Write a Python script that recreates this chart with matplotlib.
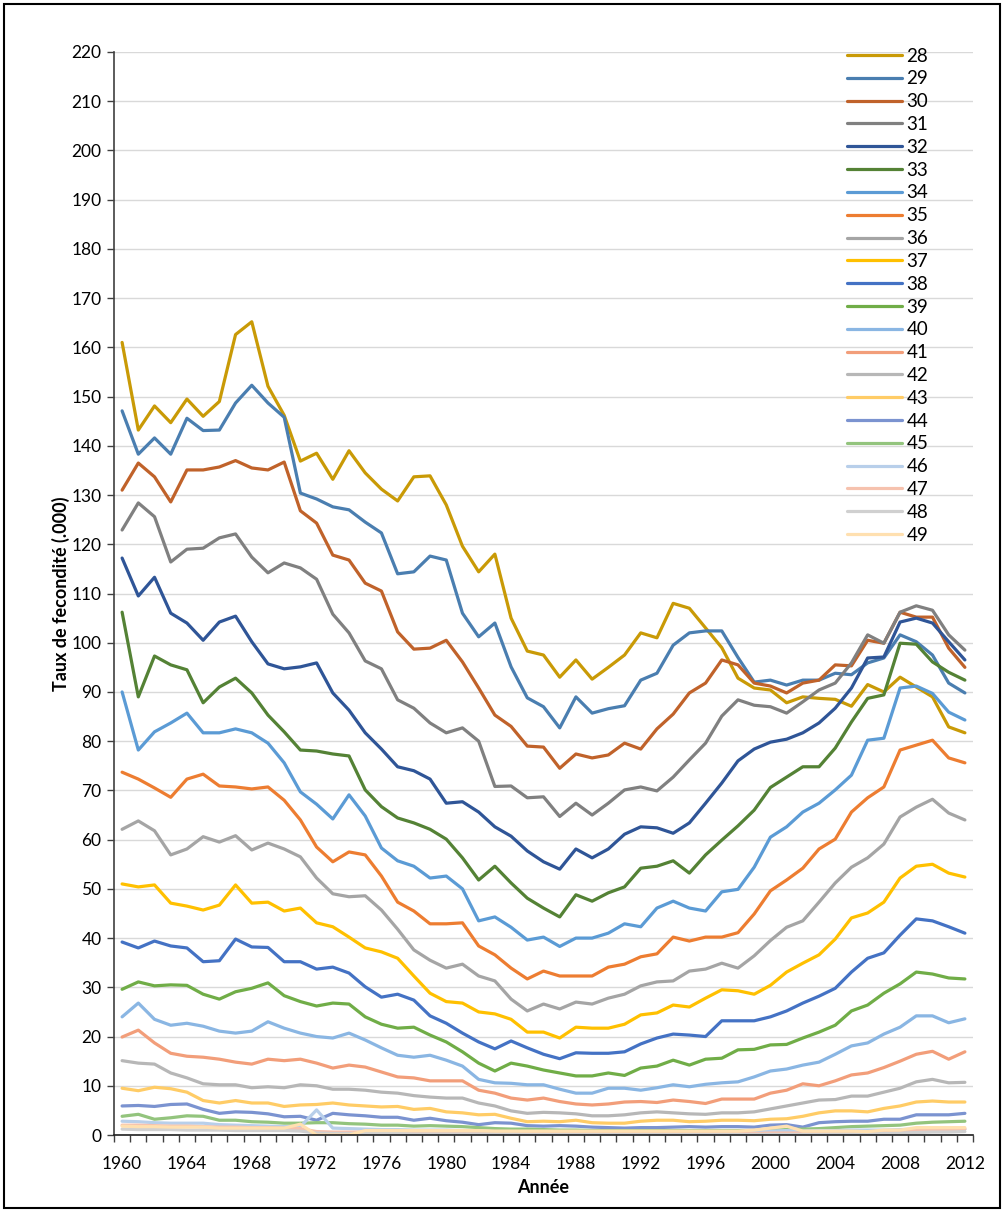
import matplotlib
matplotlib.use("Agg")
import matplotlib.pyplot as plt
from matplotlib.patches import Rectangle

plt.rcParams['font.family'] = ['Lato', 'DejaVu Sans']

years = list(range(1960, 2013))

s28 = [161, 143.2, 148.1, 144.7, 149.5, 146, 149, 162.6, 165.2, 152.1, 146.2, 136.9, 138.5, 133.2, 139, 134.5, 131.2, 128.8, 133.7, 133.9,
       128, 119.6, 114.4, 118, 105, 98.3, 97.5, 93, 96.5, 92.6, 95, 97.5, 102, 101, 108, 107, 103, 99, 92.8, 90.8,
       90.4, 87.8, 89, 88.7, 88.5, 87.1, 91.5, 90, 93, 91, 89, 82.9, 81.7]
s29 = [147.1, 138.3, 141.6, 138.3, 145.6, 143.1, 143.2, 148.7, 152.3, 148.7, 145.8, 130.4, 129.2, 127.6, 127, 124.5, 122.3, 114, 114.4, 117.6,
       116.8, 106, 101.2, 104, 95.1, 88.8, 87, 82.7, 89, 85.7, 86.6, 87.2, 92.4, 93.8, 99.5, 102, 102.4, 102.4, 97, 92,
       92.4, 91.4, 92.4, 92.4, 93.8, 93.5, 95.9, 96.9, 101.6, 100.2, 97.5, 91.8, 89.8]
s30 = [131, 136.5, 133.7, 128.6, 135.1, 135.1, 135.7, 137, 135.5, 135.1, 136.7, 126.8, 124.3, 117.8, 116.8, 112.1, 110.5, 102.2, 98.7, 98.9,
       100.5, 96.1, 90.8, 85.3, 83, 79, 78.8, 74.5, 77.4, 76.6, 77.2, 79.6, 78.4, 82.5, 85.5, 89.8, 91.8, 96.5, 95.5, 91.8,
       91.2, 89.8, 91.8, 92.4, 95.5, 95.3, 100.5, 99.9, 106.2, 105.2, 105.2, 98.9, 95]
s31 = [122.9, 128.4, 125.6, 116.4, 119, 119.2, 121.3, 122.1, 117.4, 114.2, 116.2, 115.2, 112.9, 105.8, 102, 96.3, 94.7, 88.4, 86.7, 83.7,
       81.7, 82.7, 80, 70.8, 70.9, 68.5, 68.7, 64.7, 67.4, 65, 67.4, 70.1, 70.7, 69.9, 72.7, 76.2, 79.6, 85.1, 88.4, 87.3,
       87, 85.7, 88, 90.4, 91.8, 95.9, 101.6, 99.9, 106.2, 107.5, 106.6, 101.6, 98.5]
s32 = [117.2, 109.5, 113.3, 106, 104, 100.5, 104.2, 105.4, 100.2, 95.7, 94.7, 95.1, 95.9, 89.8, 86.3, 81.7, 78.4, 74.8, 74, 72.3,
       67.4, 67.7, 65.6, 62.6, 60.7, 57.7, 55.5, 54, 58.1, 56.3, 58.1, 61.1, 62.6, 62.4, 61.3, 63.4, 67.4, 71.5, 76, 78.4,
       79.8, 80.4, 81.7, 83.7, 86.7, 90.8, 96.9, 97.1, 104.2, 105, 104, 100.2, 96.5]
s33 = [106.2, 89, 97.3, 95.5, 94.5, 87.8, 91, 92.8, 89.8, 85.3, 81.9, 78.2, 78, 77.4, 77, 70.1, 66.7, 64.4, 63.4, 62.1,
       60.1, 56.3, 51.8, 54.6, 51.2, 48.1, 46.1, 44.3, 48.8, 47.5, 49.2, 50.4, 54.2, 54.6, 55.7, 53.2, 56.9, 59.9, 62.8, 66,
       70.6, 72.7, 74.8, 74.8, 78.6, 83.9, 88.7, 89.4, 99.9, 99.7, 96.1, 94, 92.4]
s34 = [90, 78.2, 81.9, 83.7, 85.7, 81.7, 81.7, 82.5, 81.7, 79.6, 75.6, 69.7, 67.2, 64.2, 69.1, 64.8, 58.3, 55.7, 54.6, 52.2,
       52.6, 50, 43.5, 44.3, 42.2, 39.6, 40.2, 38.3, 40, 40, 41, 42.9, 42.3, 46.1, 47.5, 46.1, 45.5, 49.4, 49.9, 54.4,
       60.5, 62.6, 65.6, 67.4, 70.1, 73.1, 80.2, 80.6, 90.8, 91.2, 89.7, 85.9, 84.3]
s35 = [73.7, 72.3, 70.5, 68.6, 72.3, 73.3, 70.9, 70.7, 70.3, 70.7, 68, 64, 58.5, 55.5, 57.5, 56.9, 52.6, 47.3, 45.5, 42.9,
       42.9, 43.1, 38.4, 36.6, 33.9, 31.7, 33.3, 32.3, 32.3, 32.3, 34.1, 34.7, 36.2, 36.8, 40.2, 39.4, 40.2, 40.2, 41.1, 44.9,
       49.6, 51.8, 54.2, 58.1, 60.1, 65.6, 68.5, 70.7, 78.2, 79.2, 80.2, 76.6, 75.6]
s36 = [62.1, 63.8, 61.8, 56.9, 58.1, 60.6, 59.5, 60.8, 57.9, 59.3, 58.1, 56.5, 52.2, 49, 48.4, 48.6, 45.7, 41.8, 37.6, 35.5,
       33.9, 34.7, 32.3, 31.3, 27.6, 25.2, 26.6, 25.6, 27, 26.6, 27.8, 28.6, 30.3, 31.1, 31.3, 33.3, 33.7, 34.9, 33.9, 36.4,
       39.5, 42.2, 43.5, 47.3, 51.2, 54.4, 56.3, 59.1, 64.6, 66.6, 68.2, 65.4, 64]
s37 = [51, 50.4, 50.8, 47.1, 46.5, 45.7, 46.7, 50.8, 47.1, 47.3, 45.5, 46.1, 43.1, 42.3, 40.2, 38, 37.2, 35.9, 32.3, 28.8,
       27.1, 26.8, 25, 24.6, 23.5, 20.9, 20.9, 19.7, 21.9, 21.7, 21.7, 22.5, 24.4, 24.8, 26.4, 26, 27.8, 29.5, 29.3, 28.6,
       30.4, 33.1, 34.9, 36.6, 39.8, 44.1, 45.1, 47.3, 52.2, 54.6, 55, 53.2, 52.4]
s38 = [39.2, 38, 39.4, 38.4, 38, 35.2, 35.4, 39.8, 38.2, 38.1, 35.2, 35.2, 33.7, 34.1, 32.9, 30.1, 28, 28.6, 27.4, 24.2,
       22.7, 20.7, 18.9, 17.5, 19.1, 17.7, 16.4, 15.5, 16.7, 16.6, 16.6, 16.9, 18.5, 19.7, 20.5, 20.3, 20, 23.2, 23.2, 23.2,
       24, 25.2, 26.8, 28.2, 29.8, 33.1, 35.9, 37, 40.6, 43.9, 43.5, 42.3, 41]
s39 = [29.6, 31.1, 30.3, 30.5, 30.4, 28.6, 27.6, 29.1, 29.8, 30.9, 28.3, 27.1, 26.2, 26.8, 26.6, 24, 22.5, 21.7, 21.9, 20.3,
       18.9, 16.9, 14.6, 13, 14.6, 14, 13.2, 12.6, 12, 12, 12.6, 12.1, 13.6, 14, 15.2, 14.2, 15.4, 15.6, 17.3, 17.4,
       18.3, 18.4, 19.7, 20.9, 22.3, 25.2, 26.4, 28.8, 30.7, 33.1, 32.7, 31.9, 31.7]
s40 = [24, 26.8, 23.5, 22.3, 22.7, 22.1, 21.1, 20.7, 21.1, 23, 21.7, 20.7, 20, 19.7, 20.7, 19.3, 17.7, 16.2, 15.8, 16.2,
       15.2, 14, 11.3, 10.6, 10.5, 10.2, 10.2, 9.3, 8.5, 8.5, 9.5, 9.5, 9.1, 9.6, 10.2, 9.8, 10.3, 10.6, 10.8, 11.8,
       13, 13.4, 14.2, 14.8, 16.4, 18.1, 18.7, 20.5, 21.9, 24.2, 24.2, 22.8, 23.6]
s41 = [19.9, 21.3, 18.7, 16.6, 16, 15.8, 15.4, 14.8, 14.4, 15.4, 15.1, 15.4, 14.6, 13.6, 14.2, 13.8, 12.8, 11.8, 11.6, 11,
       11, 11, 9.1, 8.5, 7.5, 7.1, 7.5, 6.8, 6.3, 6.1, 6.3, 6.7, 6.8, 6.6, 7.1, 6.8, 6.4, 7.3, 7.3, 7.3,
       8.5, 9.1, 10.4, 10, 11, 12.2, 12.6, 13.7, 15, 16.4, 17, 15.4, 16.9]
s42 = [15.1, 14.6, 14.4, 12.6, 11.6, 10.4, 10.2, 10.2, 9.6, 9.8, 9.6, 10.2, 10, 9.3, 9.3, 9.1, 8.7, 8.5, 8, 7.7,
       7.5, 7.5, 6.5, 5.9, 4.9, 4.4, 4.6, 4.5, 4.3, 3.9, 3.9, 4.1, 4.5, 4.7, 4.5, 4.3, 4.2, 4.5, 4.5, 4.7,
       5.3, 5.9, 6.5, 7.1, 7.2, 7.9, 7.9, 8.7, 9.5, 10.8, 11.3, 10.6, 10.7]
s43 = [9.5, 9, 9.7, 9.4, 8.7, 7, 6.5, 7, 6.5, 6.5, 5.8, 6.1, 6.2, 6.5, 6.1, 5.9, 5.7, 5.8, 5.2, 5.4,
       4.7, 4.5, 4.1, 4.2, 3.4, 2.7, 2.8, 2.7, 3, 2.5, 2.4, 2.4, 2.8, 3, 3, 2.7, 2.8, 3, 3, 2.9,
       3.2, 3.3, 3.8, 4.5, 4.9, 4.9, 4.7, 5.4, 5.9, 6.7, 6.9, 6.7, 6.7]
s44 = [5.9, 6, 5.8, 6.2, 6.3, 5.2, 4.4, 4.7, 4.6, 4.3, 3.7, 3.8, 3.0, 4.4, 4.1, 3.9, 3.6, 3.6, 3, 3.4,
       2.9, 2.6, 2.1, 2.5, 2.4, 1.9, 1.8, 1.9, 1.8, 1.6, 1.5, 1.4, 1.5, 1.5, 1.6, 1.7, 1.6, 1.7, 1.7, 1.6,
       2.0, 2.1, 1.6, 2.5, 2.7, 2.8, 2.8, 3.2, 3.2, 4.1, 4.1, 4.1, 4.4]
s45 = [3.8, 4.2, 3.2, 3.5, 3.9, 3.8, 3.0, 3.0, 2.7, 2.6, 2.4, 2.4, 2.5, 2.5, 2.3, 2.2, 2.0, 2.0, 1.8, 1.9,
       1.8, 1.7, 1.5, 1.3, 1.2, 1.2, 1.1, 1.0, 1.0, 0.9, 0.9, 0.9, 0.9, 0.9, 0.9, 0.9, 0.9, 0.9, 0.9, 0.9,
       1.0, 1.1, 1.2, 1.3, 1.5, 1.7, 1.8, 1.9, 2.0, 2.4, 2.6, 2.7, 2.8]
s46 = [2.8, 2.7, 2.5, 2.4, 2.4, 2.4, 2.1, 2.0, 1.9, 1.8, 1.7, 1.7, 5.1, 1.4, 1.3, 1.2, 1.1, 1.1, 1.0, 1.0,
       1.0, 0.9, 0.8, 0.7, 0.7, 0.6, 0.6, 0.6, 0.6, 0.6, 0.6, 0.6, 0.6, 0.6, 0.6, 0.6, 0.6, 0.6, 0.6, 0.7,
       0.8, 0.9, 0.8, 0.9, 0.9, 1.0, 1.0, 1.0, 1.1, 1.2, 1.2, 1.2, 1.2]
s47 = [2.0, 2.0, 1.9, 1.8, 1.8, 1.7, 1.6, 1.6, 1.5, 1.5, 1.4, 1.3, 0.7, 0.6, 0.6, 0.6, 0.5, 0.5, 0.5, 0.5,
       0.5, 0.4, 0.4, 0.4, 0.4, 0.3, 0.3, 0.3, 0.3, 0.3, 0.3, 0.3, 0.3, 0.3, 0.3, 0.3, 0.3, 0.3, 0.3, 0.3,
       0.4, 0.4, 0.4, 0.5, 0.5, 0.6, 0.6, 0.7, 0.8, 1.0, 1.1, 1.1, 1.2]
s48 = [1.2, 1.1, 1.1, 1.1, 1.0, 1.0, 1.0, 0.9, 0.9, 0.9, 0.9, 0.8, 0.4, 0.3, 0.3, 0.3, 0.3, 0.3, 0.2, 0.2,
       0.2, 0.2, 0.2, 0.2, 0.2, 0.1, 0.1, 0.1, 0.1, 0.1, 0.1, 0.1, 0.1, 0.1, 0.1, 0.1, 0.1, 0.1, 0.1, 0.1,
       0.1, 0.1, 0.1, 0.1, 0.2, 0.2, 0.2, 0.3, 0.4, 0.5, 0.6, 0.6, 0.7]
s49 = [1.8, 1.7, 1.7, 1.6, 1.6, 1.6, 1.4, 1.4, 1.4, 1.4, 1.4, 2.2, 0.0, 0.0, 0.0, 0.9, 0.9, 0.9, 0.9, 0.9,
       0.9, 0.9, 0.9, 0.8, 0.8, 0.8, 0.8, 0.8, 0.8, 0.8, 0.8, 0.8, 0.8, 0.8, 0.8, 0.8, 0.8, 0.8, 0.8, 1.0,
       1.4, 1.8, 0.8, 0.8, 0.8, 0.8, 0.7, 1.0, 1.0, 1.5, 1.5, 1.5, 1.5]

ages = ['28', '29', '30', '31', '32', '33', '34', '35', '36', '37', '38',
        '39', '40', '41', '42', '43', '44', '45', '46', '47', '48', '49']
series = [s28, s29, s30, s31, s32, s33, s34, s35, s36, s37, s38,
          s39, s40, s41, s42, s43, s44, s45, s46, s47, s48, s49]
colors = ['#C99A06', '#4A7EB0', '#C0622A', '#808080', '#2F5597', '#548235',
          '#5B9BD5', '#ED7D31', '#A5A5A5', '#FFC000', '#4472C4', '#70AD47',
          '#8AB6E3', '#F29E7A', '#B7B7B7', '#FFCC66', '#7B93D0', '#93C47D',
          '#B8CFEA', '#F6C2AE', '#D0D0D0', '#FFE0B0']

x_tick_labels = [str(y) for y in range(1960, 2013, 4)]

fig = plt.figure(figsize=(10.06, 12.11), dpi=100)
ax = fig.add_axes([114/1006, 1 - 1135/1211, (973 - 114)/1006, (1135 - 52)/1211])

for name, vals, col in zip(ages, series, colors):
    ax.plot(years, vals, color=col, lw=2.3, label=name, solid_joinstyle='round', solid_capstyle='round')

ax.set_xlim(1959.5, 2012.5)
ax.set_ylim(0, 220)
ax.set_yticks(range(0, 221, 10))
ax.yaxis.grid(True, color='#D9D9D9', lw=1.0)
ax.set_axisbelow(True)

ax.set_xticks([y - 0.5 for y in range(1960, 2014)])
ax.set_xticklabels([])
ax.set_xticks([int(l) for l in x_tick_labels], minor=True)
ax.set_xticklabels(x_tick_labels, minor=True)
ax.tick_params(axis='x', which='major', direction='out', length=5, color='#404040', width=1)
ax.tick_params(axis='x', which='minor', length=0, pad=15, labelsize=12.5)
ax.tick_params(axis='y', direction='out', length=5, color='#404040', width=1, labelsize=12.5, pad=4)

for s in ['top', 'right']:
    ax.spines[s].set_visible(False)
ax.spines['left'].set_color('#404040')
ax.spines['bottom'].set_color('#202020')
ax.spines['left'].set_linewidth(1.2)
ax.spines['bottom'].set_linewidth(1.2)

ax.set_ylabel('Taux de fecondité (.000)', fontsize=13, fontweight='bold', labelpad=1)
ax.set_xlabel('Année', fontsize=13, fontweight='bold', labelpad=5)

leg = ax.legend(loc='upper left', bbox_to_anchor=(0.845, 1.011), frameon=False,
                fontsize=13.5, handlelength=2.9, handletextpad=0.25, labelspacing=0.31,
                borderaxespad=0)

fig.add_artist(Rectangle((4/1006, 3/1211), 996/1006, 1204/1211, transform=fig.transFigure,
                         fill=False, edgecolor='black', lw=1.5))

fig.savefig('out.png', dpi=100)
